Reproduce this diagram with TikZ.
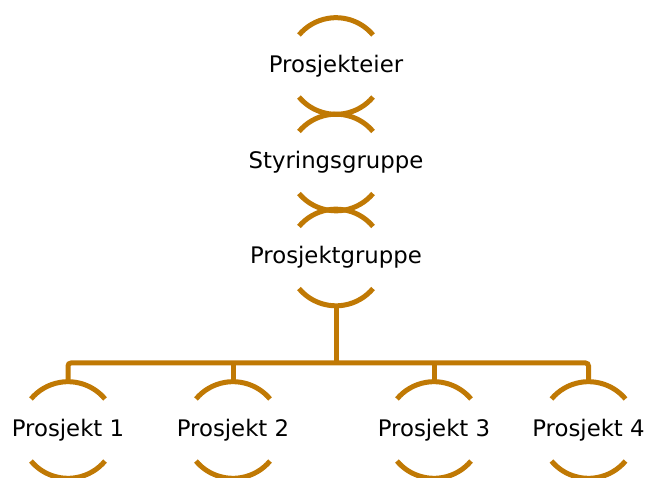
\documentclass[tikz,border=0pt]{standalone}
\usepackage{fontspec}
\setmainfont{DejaVu Sans}
\definecolor{ochre}{RGB}{192,121,4}
\tikzset{
  x=1pt, y=1pt,
  unit/.style={rectangle, minimum height=96.6pt, inner sep=0pt, outer sep=0pt,
    font=\fontsize{22.8}{26}\selectfont, text=black},
  arcline/.style={draw=ochre, line width=5pt, line cap=butt},
  link/.style={draw=ochre, line width=5pt, rounded corners=3pt}
}
\begin{document}
\begin{tikzpicture}
\useasboundingbox (0,0) rectangle (646,-478);
\clip (0,0) rectangle (646,-478);
% hierarchy units
\node[unit] (pe) at (336,-66) {Prosjekteier};
\node[unit] (sg) at (336,-162.5) {Styringsgruppe};
\node[unit] (pg) at (336,-257.5) {Prosjektgruppe};
\node[unit] (p1) at (68,-430) {Prosjekt 1};
\node[unit] (p2) at (233,-430) {Prosjekt 2};
\node[unit] (p3) at (434,-430) {Prosjekt 3};
\node[unit] (p4) at (588.5,-430) {Prosjekt 4};
% bracket arcs above and below each label
\foreach \n in {pe,sg,pg,p1,p2,p3,p4}{
  \draw[arcline] (\n.center) ++(40:48.3) arc[start angle=40, end angle=140, radius=48.3pt];
  \draw[arcline] (\n.center) ++(220:48.3) arc[start angle=220, end angle=320, radius=48.3pt];
}
% tree connectors
\coordinate (bus) at (336,-363);
\draw[link] (pg.south) -- (bus);
\draw[link] (p1.north) |- (p4.north |- bus) -- (p4.north);
\draw[link] (p2.north) -- (p2.north |- bus);
\draw[link] (p3.north) -- (p3.north |- bus);
\end{tikzpicture}
\end{document}
